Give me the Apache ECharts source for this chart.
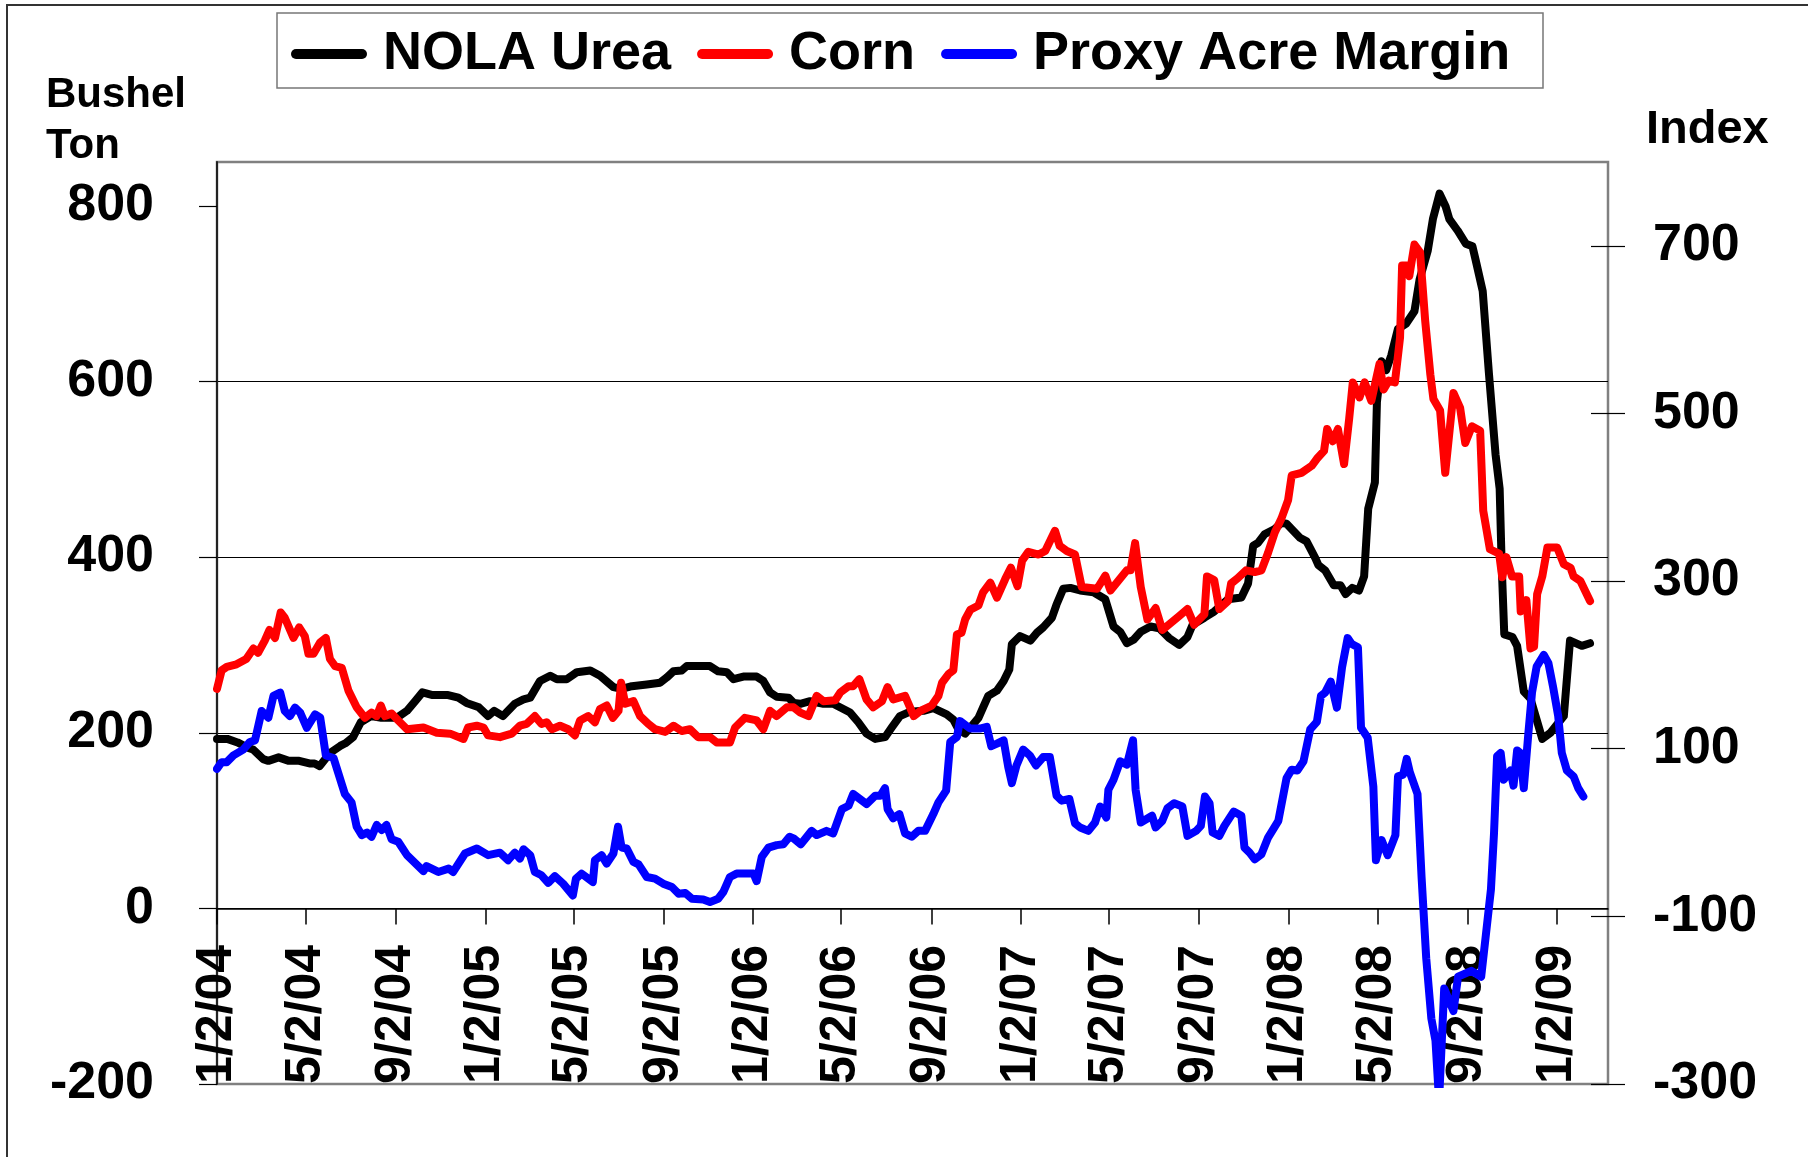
<!DOCTYPE html>
<html>
<head>
<meta charset="utf-8">
<title>NOLA Urea, Corn and Proxy Acre Margin</title>
<script src="https://cdn.jsdelivr.net/npm/echarts@6.0.0/dist/echarts.min.js"></script>
<style>
  html, body { margin: 0; padding: 0; background: #fff; }
  #chart { width: 1808px; height: 1157px; }
</style>
</head>
<body>
<div id="chart"></div>
<script>
// x values are weeks counted from 1/2/04
const tickLabels = ["1/2/04", "5/2/04", "9/2/04", "1/2/05", "5/2/05", "9/2/05", "1/2/06", "5/2/06",
  "9/2/06", "1/2/07", "5/2/07", "9/2/07", "1/2/08", "5/2/08", "9/2/08", "1/2/09"];
const leftTicks = [-200, 0, 200, 400, 600, 800];
const rightTicks = [-300, -100, 100, 300, 500, 700];

const ureaWeek = [0, 2, 4, 6, 7, 9, 10, 12, 14, 16, 18, 19, 20, 22, 24, 25, 26.5, 28, 30, 32,
  35, 37, 38.6, 40, 42, 45, 47, 48.6, 51, 52.8, 54, 55.7, 58, 59.7, 61, 62.9, 64.9, 66.2, 68.1, 70.1,
  72.7, 74.6, 77.2, 78.8, 80.8, 83.7, 86.3, 87.6, 88.9, 90.5, 91.5, 96, 97.6, 99.3, 100.6, 102.5, 105.1, 106.4, 107.7, 109,
  111.3, 112.3, 113.6, 115.5, 118.1, 120, 123.3, 124.9, 126.5, 128.2, 130.1, 131.4, 133, 135, 137.6, 139.5, 142.1, 143.4, 144.4, 145.7,
  147, 148.3, 149.2, 150.2, 151.9, 153.2, 154.3, 154.8, 156.4, 158.4, 159.7, 160.9, 162.6, 163.5, 164.8, 166.2, 168.1, 170.7, 173, 174.6,
  175.9, 177.2, 178.5, 179.9, 181.8, 183.5, 185.4, 187.4, 189, 190, 192.3, 194.2, 196.9, 199.5, 200.8, 201.8, 202.7, 204, 206, 207.3,
  208.3, 209.6, 210.9, 212.2, 213.9, 214.5, 215.8, 217.5, 218.8, 219.8, 221.1, 222.4, 223.4, 224.2, 225.5, 225.9, 226.8, 227.7, 228.7, 230,
  231.6, 233.2, 234.2, 235.8, 236.8, 238.1, 239.3, 240, 241.6, 243.2, 244.5, 245.1, 246.5, 247.7, 249, 249.8, 250.2, 250.7, 252.3, 253.2,
  254.5, 255.8, 258.1, 259.7, 262.3, 263.5, 265.8, 267.4];
const ureaPrice = [193, 193, 189, 183, 181, 170, 168, 172, 168, 168, 165, 165, 162, 177, 185, 188, 195, 212, 219, 217,
  217, 225, 236, 246, 243, 243, 240, 234, 229, 219, 225, 219, 233, 238, 240, 259, 265, 261, 261, 269,
  271, 265, 252, 250, 253, 255, 257, 263, 270, 271, 276, 276, 270, 269, 261, 264, 264, 259, 246, 241,
  240, 234, 233, 236, 233, 233, 223, 212, 199, 193, 195, 206, 219, 224, 225, 228, 221, 215, 204, 199,
  208, 217, 229, 242, 248, 259, 272, 301, 310, 305, 314, 320, 331, 346, 364, 365, 362, 360, 352, 321,
  315, 302, 306, 315, 321, 319, 308, 300, 309, 323, 331, 338, 352, 354, 370, 413, 416, 426, 432, 439,
  438, 430, 422, 418, 399, 391, 385, 368, 368, 358, 365, 362, 378, 455, 485, 577, 623, 613, 630, 660,
  666, 680, 716, 749, 785, 814, 799, 785, 772, 757, 754, 739, 703, 610, 517, 478, 390, 312, 309, 299,
  247, 239, 193, 200, 219, 305, 299, 302];

const cornWeek = [0, 0.9, 1.9, 3.8, 5.7, 7.1, 8, 9.3, 10.2, 11.3, 12.4, 13.2, 14.9, 16, 17.1, 17.8, 18.8, 20.1, 21.2, 22,
  23, 24.3, 25.6, 27.2, 28.8, 30.1, 31.1, 31.9, 32.7, 34, 35.3, 37, 40.2, 42.8, 45.4, 48, 48.9, 50.6, 51.9, 52.8,
  55.1, 57.4, 59, 60.3, 61.9, 63.2, 64.2, 65.2, 66.8, 68.4, 69.7, 70.7, 72.3, 73.6, 74.6, 75.9, 77.1, 78.2, 78.7, 79.5,
  81.1, 82.4, 84, 85.3, 87.3, 88.9, 90.5, 92.1, 93.7, 96, 97.3, 99.9, 100.9, 102.8, 105.1, 106.4, 107.7, 109, 111, 112.3,
  113.6, 115.2, 116.8, 118.1, 120.4, 121.4, 123, 123.9, 125.1, 126.5, 127.8, 129.5, 130.6, 131.7, 134, 135.7, 137, 139.2, 140.5, 141.2,
  142.5, 143.4, 144.1, 145, 145.7, 146.7, 148.3, 149.2, 150.6, 151.9, 153.5, 154.6, 155.9, 156.8, 158, 160, 161.3, 163.2, 164.1, 165.5,
  167.1, 168.4, 171.4, 173, 174, 177.2, 177.9, 178.8, 179.9, 181.2, 182.8, 184.1, 187.4, 189, 190.3, 192.3, 192.8, 194.2, 195.2, 196.9,
  197.5, 198.8, 200.4, 202.1, 203.4, 204.7, 206, 207.3, 208.6, 209.3, 211.2, 213.2, 214.2, 215.6, 216.2, 217.3, 218.3, 219.5, 220.5, 221.2,
  222.5, 223.5, 224.8, 226.4, 227.2, 228.2, 229.4, 230.4, 230.8, 231.7, 232.2, 233.2, 234.3, 235.3, 236.3, 236.9, 238.2, 239.2, 240.8, 242.1,
  243.1, 244.4, 246, 246.6, 247.9, 249.7, 250.3, 251.1, 252.2, 253.6, 253.9, 255, 255.8, 256.5, 257.1, 258.1, 259.1, 261, 262.3, 263.6,
  264.2, 265.5, 267.4];
const cornPrice = [250, 271, 275, 278, 284, 296, 291, 305, 317, 308, 337, 331, 308, 320, 310, 290, 290, 303, 308, 284,
  276, 274, 248, 229, 217, 223, 219, 231, 219, 222, 214, 204, 206, 200, 199, 193, 206, 208, 206, 197,
  195, 199, 208, 210, 219, 210, 212, 204, 208, 204, 197, 214, 219, 212, 227, 231, 217, 225, 257, 233,
  236, 219, 210, 204, 201, 208, 202, 204, 195, 195, 189, 189, 206, 217, 214, 204, 225, 219, 229, 229,
  223, 219, 242, 236, 237, 246, 253, 253, 261, 238, 229, 236, 252, 238, 242, 219, 225, 231, 242, 257,
  267, 271, 312, 314, 329, 340, 345, 360, 371, 354, 375, 388, 367, 396, 406, 403, 407, 430, 413, 407,
  403, 366, 364, 379, 362, 385, 385, 416, 366, 329, 342, 317, 333, 341, 323, 335, 378, 374, 341, 350,
  370, 376, 385, 383, 385, 405, 428, 444, 465, 493, 496, 504, 512, 521, 546, 532, 546, 506, 558, 599,
  582, 599, 578, 620, 591, 601, 599, 650, 732, 732, 720, 756, 747, 669, 608, 580, 567, 496, 587, 570,
  530, 549, 544, 453, 409, 404, 377, 400, 378, 378, 338, 351, 296, 298, 358, 378, 411, 411, 392, 388,
  378, 373, 350];

const marginWeek = [0, 0.9, 1.9, 3.2, 5.1, 6.4, 7.4, 8.7, 10, 11, 12.3, 13.2, 14.2, 15.2, 16.2, 17.5, 19.1, 20.1, 21.2, 22.7,
  24.9, 26.2, 27.2, 28.2, 29.2, 30.1, 31.1, 32.1, 33, 34, 35.3, 37, 40.2, 40.8, 43.1, 45.1, 46, 48.3, 50.6, 52.8,
  55.1, 56.7, 58, 59, 59.7, 61, 61.9, 63.2, 64.5, 65.8, 67.4, 69.3, 69.9, 71, 73.2, 73.6, 74.9, 75.9, 77.2, 78.1,
  78.8, 79.8, 81.1, 82.1, 83.7, 85.3, 86.9, 88.6, 89.9, 91.2, 92.5, 94.7, 96, 97.6, 98.6, 99.9, 101.2, 104.5, 105.1, 106.1,
  107.4, 109, 110.3, 111.5, 112.3, 113.7, 115.8, 116.8, 118.7, 120, 121.7, 123, 123.9, 126.5, 128.2, 129.2, 130.1, 130.6, 131.7, 132.9,
  134, 135.3, 136.6, 137.9, 139.5, 140.5, 142, 142.8, 144.1, 144.7, 146.7, 148.6, 149.9, 150.8, 151.9, 153.2, 154.1, 154.8, 155.7, 157,
  158.3, 159.5, 160.9, 162.2, 163.5, 164.5, 166, 167.1, 168.1, 169.7, 171, 172, 173.2, 173.6, 174.6, 175.9, 177.2, 178.4, 178.9, 179.9,
  182.1, 182.8, 184.1, 185.1, 186.4, 188, 189, 190.7, 191.6, 192.4, 193.3, 193.9, 195.2, 196.2, 198, 199.5, 200.1, 201.1, 202.1, 203.4,
  204.7, 206.7, 208.3, 209.3, 210.4, 211.6, 212.9, 214.2, 215, 215.8, 216.9, 218.1, 219.1, 220.2, 221, 222.2, 222.8, 224.1, 225.2, 225.7,
  226.8, 228, 229.5, 230, 231, 231.7, 232.3, 233.8, 234.6, 235.5, 236.5, 237.3, 238, 239, 240.8, 241.7, 244.3, 246.2, 247.1, 248.1,
  248.7, 249.3, 250, 250.6, 251.9, 252.5, 253.2, 253.8, 254.5, 255.4, 256.1, 257, 258.4, 259.3, 260.2, 261.2, 261.9, 262.9, 264.2, 265.1,
  266.1];
const marginIndex = [76, 84, 84, 92, 99, 108, 110, 145, 137, 163, 167, 145, 139, 149, 143, 125, 141, 137, 92, 89,
  46, 36, 7, -3, 0, -5, 9, 3, 9, -8, -11, -27, -46, -40, -47, -43, -47, -25, -19, -27,
  -24, -33, -24, -31, -20, -27, -47, -51, -60, -52, -61, -75, -55, -49, -59, -33, -27, -37, -25, 7,
  -18, -19, -35, -38, -53, -55, -61, -65, -73, -72, -79, -80, -83, -79, -71, -53, -49, -49, -58, -29,
  -18, -15, -14, -5, -7, -14, 2, -3, 2, -1, 28, 32, 46, 34, 44, 44, 53, 28, 17, 22,
  -1, -5, 2, 2, 22, 36, 50, 108, 114, 133, 124, 124, 126, 103, 106, 110, 78, 59, 80, 99,
  92, 80, 90, 90, 44, 38, 40, 11, 6, 2, 12, 31, 18, 51, 63, 85, 81, 110, 51, 12,
  20, 6, 14, 29, 35, 31, -4, 2, 8, 43, 35, 0, -4, 8, 25, 20, -18, -24, -32, -26,
  -6, 14, 65, 75, 74, 85, 123, 132, 163, 167, 180, 149, 197, 232, 225, 221, 125, 113, 55, -33,
  -9, -27, -3, 67, 69, 88, 72, 46, -54, -150, -222, -248, -320, -186, -213, -172, -165, -172, -123, -68,
  -1, 91, 95, 63, 74, 56, 98, 95, 53, 119, 167, 198, 212, 202, 174, 139, 95, 74, 67, 53,
  43];

const FONT = '"Liberation Sans", Arial, sans-serif';
const DAY = 86400000;
const firstDay = Date.UTC(2004, 0, 2);

const tickWeeks = tickLabels.map((s) => {
  const [m, d, y] = s.split("/").map(Number);
  return (Date.UTC(2000 + y, m - 1, d) - firstDay) / (7 * DAY);
});

function pairs(xs, ys) {
  return xs.map((x, i) => [x, ys[i]]);
}

function labelFor(value) {
  const i = tickWeeks.findIndex((t) => Math.abs(t - value) < 0.01);
  return i >= 0 ? tickLabels[i] : "";
}

const chart = echarts.init(document.getElementById("chart"));

const option = {
  animation: false,
  backgroundColor: "#fff",
  textStyle: { fontFamily: FONT },
  grid: {
    left: 217,
    top: 162,
    width: 1391,
    height: 922,
    show: true,
    borderColor: "#808080",
    borderWidth: 2.5,
    outerBoundsMode: "none",
  },
  graphic: [
    {
      type: "rect",
      silent: true,
      z: -10,
      shape: { x: 7, y: 5, width: 1900, height: 1300 },
      style: { fill: "none", stroke: "#333", lineWidth: 2 },
    },
    {
      type: "rect",
      silent: true,
      z: -5,
      shape: { x: 277, y: 13, width: 1266, height: 75 },
      style: { fill: "#fff", stroke: "#777", lineWidth: 1.5 },
    },
    {
      type: "text",
      x: 46,
      y: 95,
      style: { text: "Bushel", fontSize: 42, fontWeight: "bold", fontFamily: FONT, fill: "#000", verticalAlign: "middle" },
    },
    {
      type: "text",
      x: 46,
      y: 146,
      style: { text: "Ton", fontSize: 42, fontWeight: "bold", fontFamily: FONT, fill: "#000", verticalAlign: "middle" },
    },
    {
      type: "text",
      x: 1646,
      y: 130,
      style: { text: "Index", fontSize: 47, fontWeight: "bold", fontFamily: FONT, fill: "#000", verticalAlign: "middle" },
    },
  ],
  legend: {
    left: 291,
    top: 27,
    padding: 0,
    itemGap: 26,
    itemWidth: 76,
    itemHeight: 10,
    icon: "path://M5,0 L71,0 A5,5 0 0 1 71,10 L5,10 A5,5 0 0 1 5,0 Z",
    itemStyle: { borderWidth: 0 },
    selectedMode: false,
    textStyle: { fontSize: 54, fontWeight: "bold", color: "#000", fontFamily: FONT, padding: [0, 0, 0, 11] },
    data: ["NOLA Urea", "Corn", "Proxy Acre Margin"],
  },
  xAxis: [
    {
      // line and ticks sit on the zero of the left axis
      type: "value",
      min: 0,
      max: 270.9,
      axisLine: { onZero: true, onZeroAxisIndex: 0, lineStyle: { color: "#000", width: 1.5 } },
      axisTick: { customValues: tickWeeks, length: 16, lineStyle: { color: "#000", width: 1.5 } },
      axisLabel: { show: false },
      splitLine: { show: false },
    },
    {
      // labels only, rising from the bottom edge of the plot
      type: "value",
      position: "top",
      offset: -922,
      min: 0,
      max: 270.9,
      axisLine: { show: false, onZero: false },
      axisTick: { show: false },
      axisLabel: {
        customValues: tickWeeks,
        rotate: -90,
        margin: 0,
        fontSize: 50,
        fontWeight: "bold",
        color: "#000",
        fontFamily: FONT,
        formatter: labelFor,
      },
      splitLine: { show: false },
    },
  ],
  yAxis: [
    {
      type: "value",
      position: "left",
      min: -200,
      max: 850,
      interval: 200,
      axisLine: { show: true, onZero: false, lineStyle: { color: "#222", width: 2 } },
      axisTick: { show: true, customValues: leftTicks, length: 18, lineStyle: { color: "#000", width: 1.2 } },
      axisLabel: { customValues: leftTicks, margin: 63, fontSize: 52, fontWeight: "bold", color: "#000", fontFamily: FONT },
      splitLine: { show: true, showMinLine: false, showMaxLine: false, lineStyle: { color: "#000", width: 1.2 } },
    },
    {
      type: "value",
      position: "right",
      min: -300,
      max: 800,
      interval: 200,
      axisLine: { show: false, onZero: false },
      axisTick: { show: true, customValues: rightTicks, length: 17, lineStyle: { color: "#000", width: 1.2 } },
      axisLabel: { customValues: rightTicks, margin: 45, fontSize: 52, fontWeight: "bold", color: "#000", fontFamily: FONT },
      splitLine: { show: false },
    },
    {
      // inner half of the crossing ticks on the right axis
      type: "value",
      position: "right",
      min: -300,
      max: 800,
      interval: 200,
      axisLine: { show: false, onZero: false },
      axisTick: { show: true, inside: true, customValues: rightTicks, length: 17, lineStyle: { color: "#000", width: 1.2 } },
      axisLabel: { show: false },
      splitLine: { show: false },
    },
  ],
  series: [
    {
      name: "NOLA Urea",
      type: "line",
      yAxisIndex: 0,
      data: pairs(ureaWeek, ureaPrice),
      symbol: "none",
      color: "#000",
      lineStyle: { color: "#000", width: 8, join: "round", cap: "round" },
    },
    {
      name: "Corn",
      type: "line",
      yAxisIndex: 0,
      data: pairs(cornWeek, cornPrice),
      symbol: "none",
      color: "#ff0000",
      lineStyle: { color: "#ff0000", width: 8, join: "round", cap: "round" },
    },
    {
      name: "Proxy Acre Margin",
      type: "line",
      yAxisIndex: 1,
      data: pairs(marginWeek, marginIndex),
      symbol: "none",
      color: "#0000ff",
      lineStyle: { color: "#0000ff", width: 8, join: "round", cap: "round" },
    },
  ],
};

chart.setOption(option);
</script>
</body>
</html>
